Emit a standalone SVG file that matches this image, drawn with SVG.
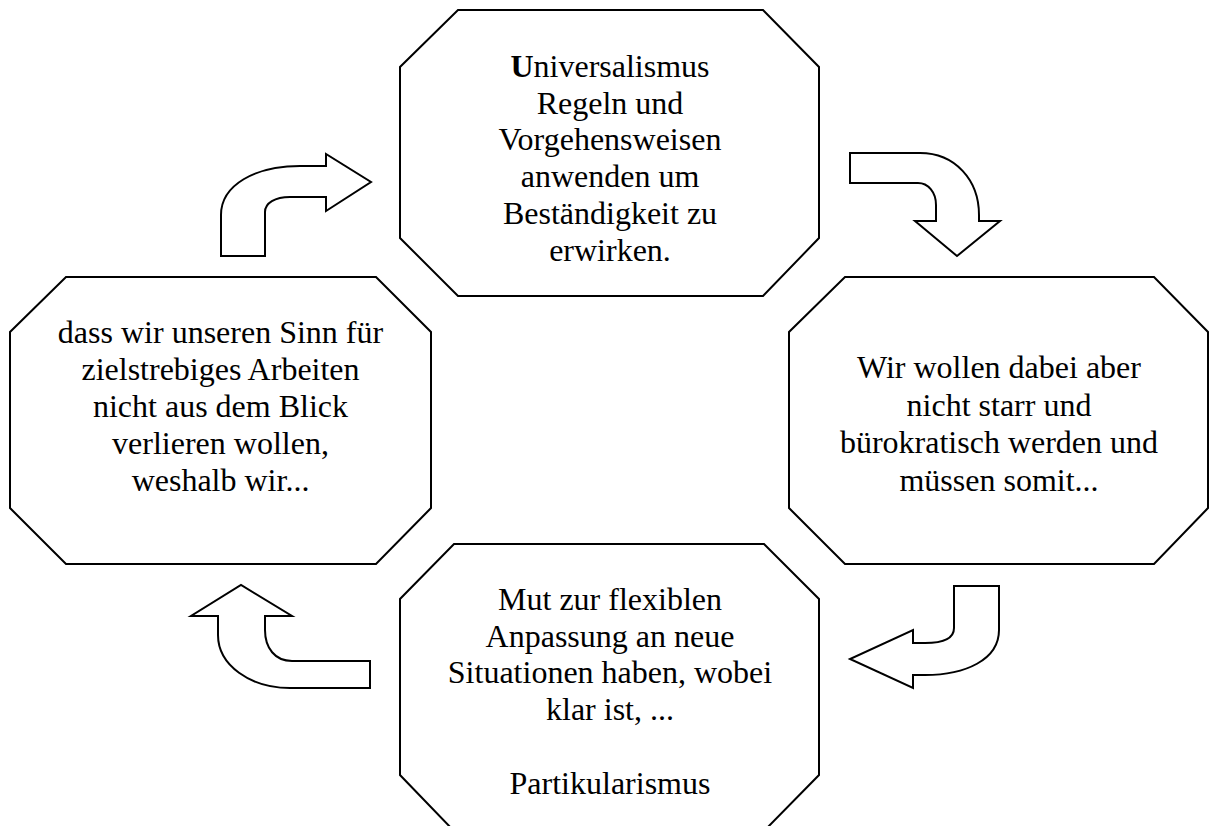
<svg xmlns="http://www.w3.org/2000/svg" width="1209" height="826" viewBox="0 0 1209 826">
<style>
.oct{fill:#fff;stroke:#000;stroke-width:2;stroke-linejoin:miter}
.arr{fill:#fff;stroke:#000;stroke-width:2;stroke-linejoin:miter}
text{font-family:"Liberation Serif","Times New Roman",serif;font-size:32px;fill:#000;text-anchor:middle}
</style>
<rect width="1209" height="826" fill="#fff"/>
<g id="connectors">
<path class="arr" d="M221,256 L221,215 C221,185 255,166 300,166 L326,166 L326,154 L371,182 L326,211 L326,197 L290,197 C275,197 265,203 265,212 L265,256 Z"/>
<path class="arr" d="M850,153 L920,153 C955,153 979,180 979,215 L979,221 L1000,221 L957,256 L915,221 L936,221 L936,205 C936,192 928,183 918,183 L850,183 Z"/>
<path class="arr" d="M954,586 L999,586 L999,630 C999,660 965,675 925,675 L913,675 L913,688 L850,659 L913,630 L913,643 L925,643 C945,643 954,638 954,628 Z"/>
<path class="arr" d="M218,616 L191,616 L241,585 L292,616 L265,616 L265,630 C265,648 275,661 292,661 L370,661 L370,688 L290,688 C250,688 218,665 218,635 Z"/>
</g>
<g id="node-top">
<polygon class="oct" points="458,10 763,10 819,67 819,238 763,296 458,296 400,238 400,67"/>
<text x="610" y="77"><tspan font-weight="bold">U</tspan>niversalismus</text>
<text x="610" y="113.7">Regeln und</text>
<text x="610" y="150.4">Vorgehensweisen</text>
<text x="610" y="187.1">anwenden um</text>
<text x="610" y="223.8">Beständigkeit zu</text>
<text x="610" y="260.5">erwirken.</text>
</g>
<g id="node-right">
<polygon class="oct" points="845,277 1154,277 1208,332 1208,508 1154,564 845,564 789,508 789,332"/>
<text x="999" y="378.3">Wir wollen dabei aber</text>
<text x="999" y="415.7">nicht starr und</text>
<text x="999" y="453.1">bürokratisch werden und</text>
<text x="999" y="490.5">müssen somit...</text>
</g>
<g id="node-bottom">
<polygon class="oct" points="454,544 764,544 819,599 819,775 764,831 454,831 400,775 400,599"/>
<text x="610" y="610">Mut zur flexiblen</text>
<text x="610" y="646.7">Anpassung an neue</text>
<text x="610" y="683.4">Situationen haben, wobei</text>
<text x="610" y="720.1">klar ist, ...</text>
<text x="610" y="793.5">Partikularismus</text>
</g>
<g id="node-left">
<polygon class="oct" points="66,277 376,277 431,332 431,508 376,564 66,564 10,508 10,332"/>
<text x="220.5" y="342.7">dass wir unseren Sinn für</text>
<text x="220.5" y="379.7">zielstrebiges Arbeiten</text>
<text x="220.5" y="416.7">nicht aus dem Blick</text>
<text x="220.5" y="453.7">verlieren wollen,</text>
<text x="220.5" y="490.7">weshalb wir...</text>
</g>
</svg>
